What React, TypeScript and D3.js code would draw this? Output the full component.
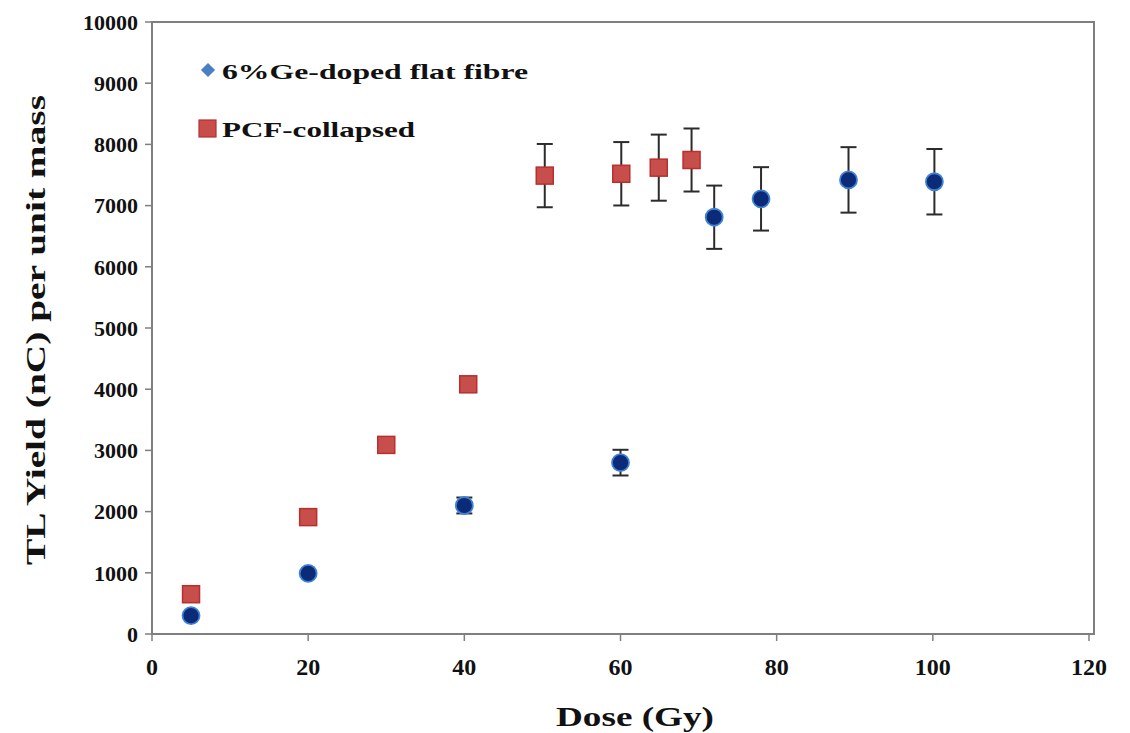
import React from "react";
import * as d3 from "d3";

const geDose = [5, 20, 40, 60, 72, 78, 89.2, 100.2];
const geYield = [300, 990, 2100, 2800, 6810, 7110, 7420, 7390];
const geErr = [0, 0, 130, 210, 517, 518, 535, 535];

const pcfDose = [5, 20, 30, 40.5, 50.3, 60.1, 64.9, 69.1];
const pcfYield = [650, 1910, 3090, 4080, 7490, 7520, 7620, 7745];
const pcfErr = [0, 0, 0, 0, 517, 518, 540, 515];

const xTicks = [0, 20, 40, 60, 80, 100, 120];
const yTicks = [0, 1000, 2000, 3000, 4000, 5000, 6000, 7000, 8000, 9000, 10000];

const seriesNames = ["6%Ge-doped flat fibre", "PCF-collapsed"];

const FONT = "'Liberation Serif', 'Times New Roman', serif";

export default function App() {
  const x = d3.scaleLinear().domain([0, 120]).range([152, 1089]);
  const y = d3.scaleLinear().domain([0, 10000]).range([634, 22]);
  const cap = 8;
  const axisColor = "#7f7f7f";

  const errBar = (xv: number, yv: number, e: number, key: string) =>
    e > 0 ? (
      <g key={key} stroke="#2b2b2b" strokeWidth={2}>
        <line x1={x(xv)} x2={x(xv)} y1={y(yv + e)} y2={y(yv - e)} />
        <line x1={x(xv) - cap} x2={x(xv) + cap} y1={y(yv + e)} y2={y(yv + e)} />
        <line x1={x(xv) - cap} x2={x(xv) + cap} y1={y(yv - e)} y2={y(yv - e)} />
      </g>
    ) : null;

  return (
    <svg
      width={1130}
      height={733}
      style={{ position: "absolute", left: 0, top: 0, background: "#fff" }}
      fontFamily={FONT}
    >
      <rect x={0} y={0} width={1130} height={733} fill="#fff" />
      {/* frame */}
      <rect x={152} y={22} width={1094 - 152} height={634 - 22} fill="none" stroke={axisColor} strokeWidth={2} />
      {/* y ticks */}
      {yTicks.map((t) => (
        <g key={"yt" + t}>
          <line x1={145} x2={152} y1={y(t)} y2={y(t)} stroke={axisColor} strokeWidth={1.5} />
          <text x={138} y={y(t)} dy="0.35em" textAnchor="end" fontSize={22} fontWeight="bold" fill="#111">
            {t}
          </text>
        </g>
      ))}
      {/* x ticks */}
      {xTicks.map((t) => (
        <g key={"xt" + t}>
          <line x1={x(t)} x2={x(t)} y1={634} y2={641} stroke={axisColor} strokeWidth={1.5} />
          <text x={x(t)} y={667} dy="0.35em" textAnchor="middle" fontSize={24} fontWeight="bold" fill="#111">
            {t}
          </text>
        </g>
      ))}
      {/* axis titles */}
      <text x={635} y={716} dy="0.35em" textAnchor="middle" fontSize={28} fontWeight="bold" fill="#111"
        textLength={158} lengthAdjust="spacingAndGlyphs">
        Dose (Gy)
      </text>
      <text transform="translate(35,330) rotate(-90)" dy="0.35em" textAnchor="middle" fontSize={28}
        fontWeight="bold" fill="#111" textLength={470} lengthAdjust="spacingAndGlyphs">
        TL Yield (nC) per unit mass
      </text>

      {/* error bars */}
      {geDose.map((d, i) => errBar(d, geYield[i], geErr[i], "ge" + i))}
      {pcfDose.map((d, i) => errBar(d, pcfYield[i], pcfErr[i], "pc" + i))}

      {/* Ge-doped series */}
      {geDose.map((d, i) => (
        <circle key={"gc" + i} cx={x(d)} cy={y(geYield[i])} r={8.5} fill="#0b2a78" stroke="#3f82d4" strokeWidth={1.8} />
      ))}
      {/* PCF series */}
      {pcfDose.map((d, i) => (
        <rect key={"pr" + i} x={x(d) - 8.5} y={y(pcfYield[i]) - 8.5} width={17} height={17}
          fill="#c84e4b" stroke="#b7302e" strokeWidth={1.5} />
      ))}

      {/* legend */}
      <rect x={-5} y={-5} width={10} height={10} transform="translate(208,70) rotate(45)" fill="#4a7fc4" />
      <text x={222} y={71} dy="0.35em" fontSize={22} fontWeight="bold" fill="#111"
        textLength={306} lengthAdjust="spacingAndGlyphs">
        {seriesNames[0]}
      </text>
      <rect x={199} y={120} width={17} height={17} fill="#c84e4b" stroke="#b7302e" strokeWidth={1.2} />
      <text x={222} y={129} dy="0.35em" fontSize={22} fontWeight="bold" fill="#111"
        textLength={193} lengthAdjust="spacingAndGlyphs">
        {seriesNames[1]}
      </text>
    </svg>
  );
}
